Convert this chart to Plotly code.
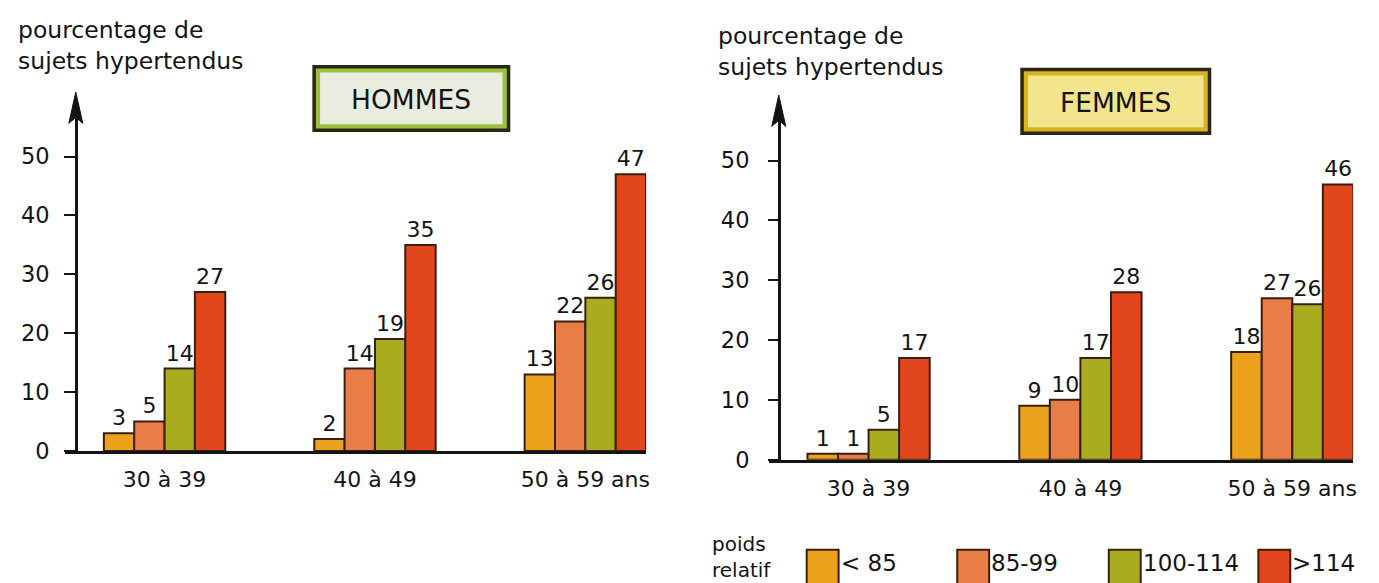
import plotly.graph_objects as go

W, H = 1379, 583

categories = ["30 à 39", "40 à 49", "50 à 59 ans"]
series_names = ["< 85", "85-99", "100-114", ">114"]
series_colors = ["#eba21c", "#e97d48", "#a8ac1e", "#e2461c"]

hommes_lt85 = [3, 2, 13]
hommes_85_99 = [5, 14, 22]
hommes_100_114 = [14, 19, 26]
hommes_gt114 = [27, 35, 47]

femmes_lt85 = [1, 9, 18]
femmes_85_99 = [1, 10, 27]
femmes_100_114 = [5, 17, 26]
femmes_gt114 = [17, 28, 46]

y_ticks = [0, 10, 20, 30, 40, 50]

hommes = [hommes_lt85, hommes_85_99, hommes_100_114, hommes_gt114]
femmes = [femmes_lt85, femmes_85_99, femmes_100_114, femmes_gt114]

FONT = "DejaVu Sans, Arial, sans-serif"
EDGE = "#3a1f10"
INK = "#141414"


def X(px):
    return px / W


def Y(py):
    return 1 - py / H


fig = go.Figure()

for vals_h, vals_f, name, col in zip(hommes, femmes, series_names, series_colors):
    for vals, xa, ya in ((vals_h, "x", "y"), (vals_f, "x2", "y2")):
        fig.add_trace(go.Bar(
            x=categories, y=vals, name=name, xaxis=xa, yaxis=ya,
            marker=dict(color=col, line=dict(color=EDGE, width=2)),
            text=[str(v) for v in vals], textposition="outside",
            textfont=dict(size=22, color=INK, family=FONT),
            constraintext="none", cliponaxis=False, showlegend=False,
            hoverinfo="x+y+name",
        ))

axis_common = dict(showgrid=False, zeroline=False, showline=True,
                   linecolor=INK, linewidth=2.5)

fig.update_layout(
    width=W, height=H, autosize=False,
    margin=dict(l=0, r=0, t=0, b=0),
    paper_bgcolor="white", plot_bgcolor="rgba(0,0,0,0)",
    barmode="group", bargap=0.423, bargroupgap=0,
    font=dict(family=FONT, color=INK),
    xaxis=dict(domain=[X(57), X(640)], range=[-0.474, 2.289], anchor="y",
               ticks="", tickfont=dict(size=22), ticklabelstandoff=7,
               type="category", **axis_common),
    yaxis=dict(domain=[Y(453), Y(112)], range=[0, (453 - 112) / 6.02],
               anchor="free", position=X(68), tickvals=y_ticks,
               ticks="outside", ticklen=11, tickwidth=2, tickcolor=INK,
               tickfont=dict(size=22.5), ticklabelstandoff=10, **axis_common),
    xaxis2=dict(domain=[X(763), X(1349)], range=[-0.471, 2.287], anchor="y2",
                ticks="", tickfont=dict(size=22), ticklabelstandoff=7,
                type="category", **axis_common),
    yaxis2=dict(domain=[Y(462), Y(115)], range=[0, (462 - 115) / 6.12],
                anchor="free", position=X(773), tickvals=y_ticks,
                ticks="outside", ticklen=10, tickwidth=2, tickcolor=INK,
                tickfont=dict(size=22.5), ticklabelstandoff=14, **axis_common),
)

shapes = []
annotations = []

# arrowheads on the vertical axes
for ax_x, tip, base in ((68, 86, 118), (773, 89, 121)):
    shapes.append(dict(
        type="path", xref="paper", yref="paper",
        path=(f"M {X(ax_x)},{Y(tip)} L {X(ax_x + 7)},{Y(base)} "
              f"L {X(ax_x)},{Y(base - 6)} L {X(ax_x - 7)},{Y(base)} Z"),
        fillcolor=INK, line=dict(color=INK, width=1),
    ))

# axis titles
for x0, yc in ((8, 38), (710, 45)):
    annotations.append(dict(
        text="pourcentage de<br>sujets hypertendus", xref="paper", yref="paper",
        x=X(x0), y=Y(yc), xanchor="left", yanchor="middle", align="left",
        showarrow=False, font=dict(size=23.5, family=FONT, color=INK),
    ))

# title boxes
boxes = [
    ("HOMMES", (307, 60, 502, 125), "#9cc23c", "#e8ede0"),
    ("FEMMES", (1017, 63, 1205, 128), "#d8b41e", "#f2e58c"),
]
for label, (x0, y0, x1, y1), band, fill in boxes:
    shapes.append(dict(type="rect", xref="paper", yref="paper",
                       x0=X(x0), x1=X(x1), y0=Y(y1), y1=Y(y0),
                       fillcolor=band, line=dict(color="#2b2618", width=3.5)))
    shapes.append(dict(type="rect", xref="paper", yref="paper",
                       x0=X(x0 + 6), x1=X(x1 - 6), y0=Y(y1 - 6), y1=Y(y0 + 6),
                       fillcolor=fill, line=dict(width=0)))
    annotations.append(dict(
        text=label, xref="paper", yref="paper",
        x=X((x0 + x1) / 2), y=Y((y0 + y1) / 2 + 1),
        xanchor="center", yanchor="middle", showarrow=False,
        font=dict(size=26.5, family=FONT, color=INK),
    ))

# legend
annotations.append(dict(
    text="poids<br>relatif", xref="paper", yref="paper", x=X(704), y=Y(562),
    xanchor="left", yanchor="middle", align="left", showarrow=False,
    font=dict(size=20, family=FONT, color=INK),
))
swatch_x = [801, 952, 1104, 1254]
for sx, name, col in zip(swatch_x, series_names, series_colors):
    shapes.append(dict(type="rect", xref="paper", yref="paper",
                       x0=X(sx), x1=X(sx + 32), y0=Y(592), y1=Y(554),
                       fillcolor=col, line=dict(color=EDGE, width=2)))
    annotations.append(dict(
        text=name, xref="paper", yref="paper", x=X(sx + 32), y=Y(568),
        xanchor="left", yanchor="middle", showarrow=False,
        font=dict(size=23, family=FONT, color=INK),
    ))

fig.update_layout(shapes=shapes, annotations=annotations)

fig.write_html("out.html")
